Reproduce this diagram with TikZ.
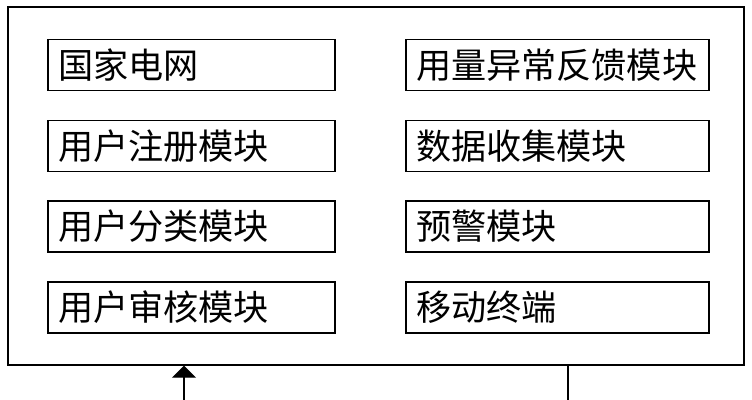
\documentclass[tikz,border=0pt]{standalone}
\usepackage{fontspec}
\newfontfamily\cjk{Noto Sans CJK SC}
\usetikzlibrary{arrows.meta}

\begin{document}
\begin{tikzpicture}
\tikzstyle{frame}=[draw,line width=1pt,minimum width=18.4cm,minimum height=8.95cm,inner sep=0pt];
\tikzstyle{box}=[draw,line width=1pt,minimum height=1.275cm,inner xsep=0.25cm,align=left,font=\cjk\fontsize{25}{28}\selectfont];
\tikzstyle{lbox}=[box,text width=6.675cm];
\tikzstyle{rbox}=[box,text width=7.075cm];

\useasboundingbox (0,0) rectangle (18.8,-10);

\node [frame] (sys) at (9.4,-4.65) {};

\node [lbox] (grid) at (4.7875,-1.625) {国家电网};
\node [lbox] (reg) at (4.7875,-3.645) {用户注册模块};
\node [lbox] (cls) at (4.7875,-5.665) {用户分类模块};
\node [lbox] (aud) at (4.7875,-7.685) {用户审核模块};

\node [rbox] (fb) at (13.9375,-1.625) {用量异常反馈模块};
\node [rbox] (col) at (13.9375,-3.645) {数据收集模块};
\node [rbox] (warn) at (13.9375,-5.665) {预警模块};
\node [rbox] (mob) at (13.9375,-7.685) {移动终端};

\coordinate (in) at (4.6,-10);
\coordinate (out) at (14.2,-10);
\draw [line width=1pt,-{Triangle[width=0.6cm,length=0.3cm]}] (in) -- (in |- sys.south);
\draw [line width=1pt] (out |- sys.south) -- (out);
\end{tikzpicture}
\end{document}
